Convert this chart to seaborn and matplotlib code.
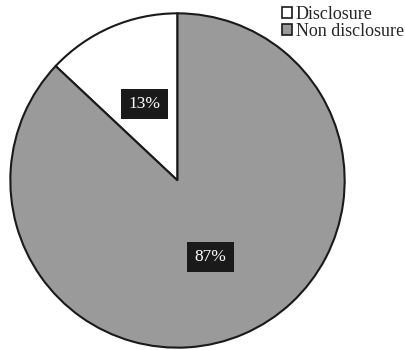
import matplotlib
matplotlib.use("Agg")
import matplotlib.pyplot as plt
import matplotlib.patches as mpatches
import seaborn as sns

categories = ["Disclosure", "Non disclosure"]
values = [13, 87]
colors = ["#ffffff", "#9a9a9a"]

sns.set_theme(style="white")
plt.rcParams['font.family'] = ['Liberation Serif', 'DejaVu Serif']

W, H = 406, 350
fig = plt.figure(figsize=(W / 100, H / 100), dpi=100)
cx, cy, r = 177.5, 180.5, 168
ax = fig.add_axes([(cx - r) / W, (H - cy - r) / H, 2 * r / W, 2 * r / H])

wedges, texts, autotexts = ax.pie(
    values, colors=colors, startangle=90, counterclock=True,
    autopct=lambda p: f"{p:.0f}%", pctdistance=0.5,
    wedgeprops=dict(edgecolor="#1a1a1a", linewidth=1.5),
    textprops=dict(color="white", fontsize=12.5),
)
for t in autotexts:
    t.set_bbox(dict(boxstyle="square,pad=0.42", facecolor="#1a1a1a", edgecolor="none"))
ax.set_xlim(-1.005, 1.005)
ax.set_ylim(-1.005, 1.005)
ax.set_aspect("equal")
ax.axis("off")

handles = [mpatches.Patch(facecolor=c, edgecolor="#1a1a1a", linewidth=1.2) for c in colors]
fig.legend(handles, categories, loc="upper left", bbox_to_anchor=(282 / W, 1 - 6 / H),
           frameon=False, fontsize=13, handlelength=0.55, handleheight=0.55,
           handletextpad=0.2, labelspacing=0.0, borderpad=0, borderaxespad=0)

fig.savefig("out.png", dpi=100)
